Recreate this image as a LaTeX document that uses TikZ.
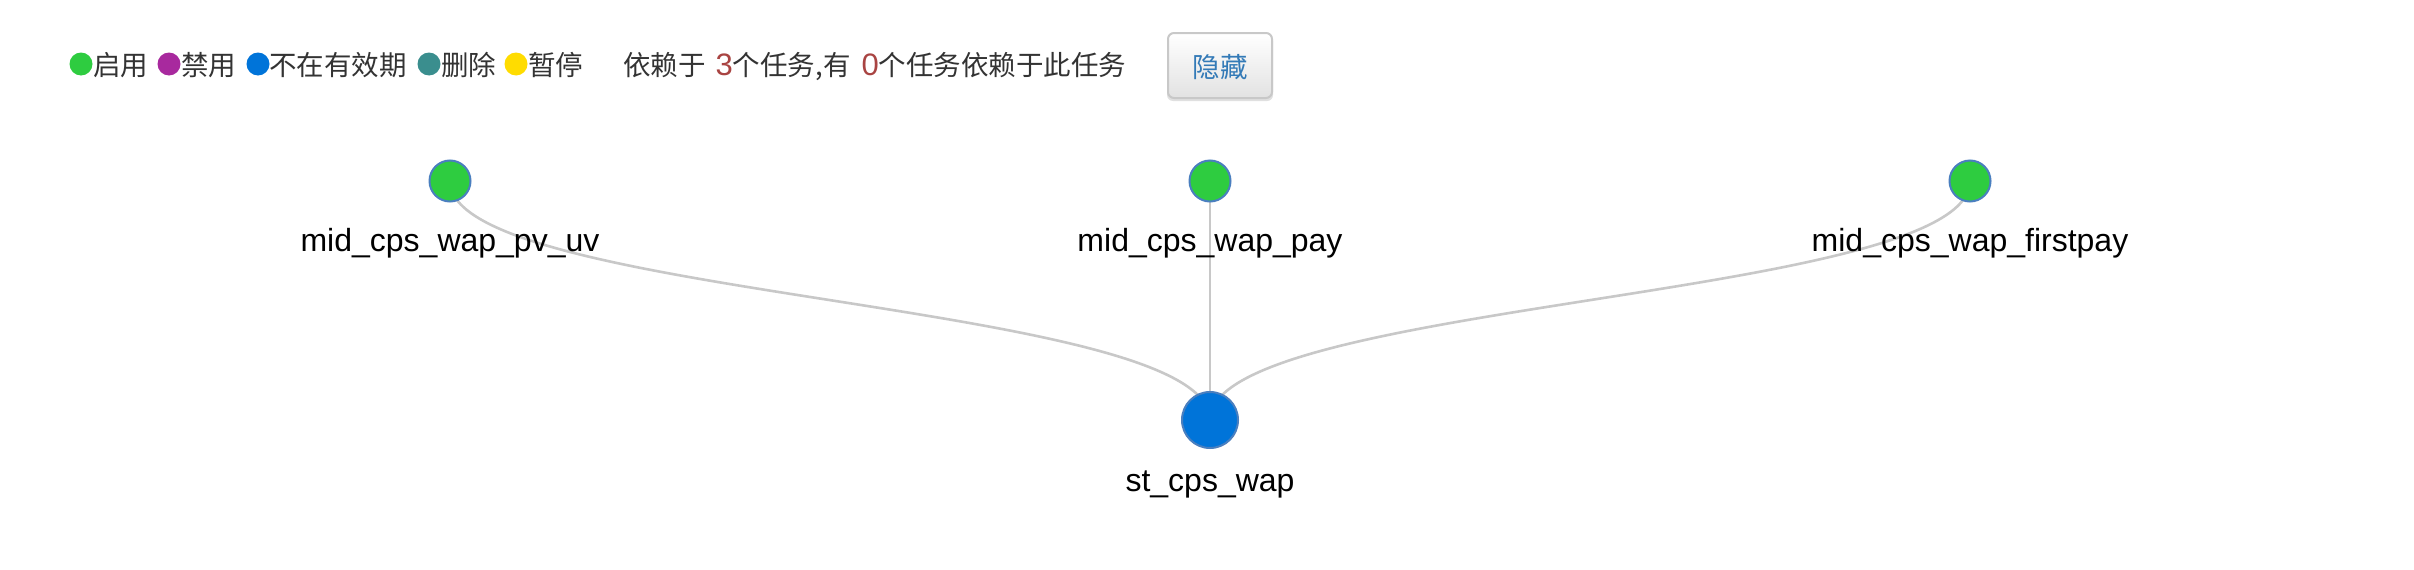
\documentclass[tikz,border=0pt]{standalone}
\usepackage{fontspec}
\setmainfont{Liberation Sans}
\newfontfamily\cjk{Noto Sans CJK SC}
\usetikzlibrary{calc,backgrounds}
\definecolor{cgreen}{HTML}{2ECC40}
\definecolor{cpurple}{HTML}{A8299E}
\definecolor{cblue}{HTML}{0074D9}
\definecolor{cteal}{HTML}{3A8E8E}
\definecolor{cyellow}{HTML}{FFDC00}
\definecolor{tstroke}{HTML}{4A7FBF}
\definecolor{edgegray}{HTML}{C8C8C8}
\definecolor{txtgray}{HTML}{333333}
\definecolor{numred}{HTML}{A94442}
\definecolor{btnblue}{HTML}{337AB7}
\definecolor{btnborder}{HTML}{C8C8C8}
\definecolor{btnbottom}{HTML}{E2E2E2}
\begin{document}
\begin{tikzpicture}[x=1pt,y=-1pt,
  edge/.style={draw=edgegray,line width=2.6pt},
  task/.style={circle,fill=cgreen,draw=tstroke,line width=2pt,minimum size=41pt,inner sep=0pt},
  lbl/.style={anchor=base,inner sep=0pt,font=\fontsize{32}{36}\selectfont,text=black},
  dot/.style={circle,minimum size=23pt,inner sep=0pt},
  legtxt/.style={anchor=base west,inner sep=0pt,font=\cjk\fontsize{27.5}{30}\selectfont,text=txtgray},
]
\useasboundingbox (0,0) rectangle (2414,570);

% legend
\node[dot,fill=cgreen]  (d1) at (81,64) {};
\node[legtxt] (t1) at (93,75) {启用};
\node[dot,fill=cpurple] (d2) at (169,64) {};
\node[legtxt] (t2) at (181,75) {禁用};
\node[dot,fill=cblue]   (d3) at (258,64) {};
\node[legtxt] (t3) at (269,75) {不在有效期};
\node[dot,fill=cteal]   (d4) at (429,64) {};
\node[legtxt] (t4) at (441,75) {删除};
\node[dot,fill=cyellow] (d5) at (516,64) {};
\node[legtxt] (t5) at (528,75) {暂停};

\node[legtxt] (dep) at (623,75) {依赖于\hspace{10pt}{\rmfamily\fontsize{31}{34}\selectfont\color{numred}3}个任务,有\hspace{11pt}{\rmfamily\fontsize{31}{34}\selectfont\color{numred}0}个任务依赖于此任务};

% button
\fill[black!12,rounded corners=6pt] (1167,35) rectangle (1273,101);
\path[draw=btnborder,line width=2pt,rounded corners=6pt,top color=white,bottom color=btnbottom] (1168,33) rectangle (1272,98);
\node[anchor=base,inner sep=0pt,font=\cjk\fontsize{27.5}{30}\selectfont,text=btnblue] (btn) at (1220,77) {隐藏};

% graph nodes
\node[task] (n1) at (450,181) {};
\node[task] (n2) at (1210,181) {};
\node[task] (n3) at (1970,181) {};
\node[task,fill=cblue,minimum size=56pt] (n4) at (1210,420) {};
\coordinate (mid) at (1210,300);

\node[lbl] (l1) at (450,251) {mid\_cps\_wap\_pv\_uv};
\node[lbl] (l2) at (1210,251) {mid\_cps\_wap\_pay};
\node[lbl] (l3) at (1970,251) {mid\_cps\_wap\_firstpay};
\node[lbl] (l4) at (1210,491) {st\_cps\_wap};

% connectors behind the nodes
\begin{scope}[on background layer]
\fill[white] (0,0) rectangle (2414,570);
\path[edge] (n1.center) .. controls (n1.center |- mid) and (n4.center |- mid) .. (n4.center);
\path[edge] (n2.center) -- (n4.center);
\path[edge] (n3.center) .. controls (n3.center |- mid) and (n4.center |- mid) .. (n4.center);
\end{scope}
\end{tikzpicture}
\end{document}
